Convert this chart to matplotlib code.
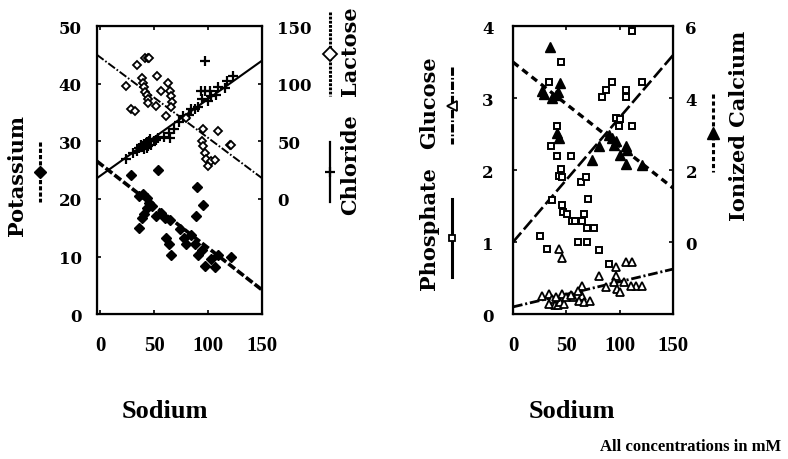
import numpy as np
import matplotlib.pyplot as plt
from matplotlib.lines import Line2D

# 字体: 粗体衬线
plt.rcParams['font.family'] = ['DejaVu Serif']
plt.rcParams['font.weight'] = 'bold'
plt.rcParams['lines.scale_dashes'] = False

# ---- 左图数据 (mM) ----
k_sodium = [29, 54, 36, 40, 43, 45, 48, 43, 41, 39, 36, 52, 56, 60, 65, 61, 64, 66,
            74, 78, 84, 80, 88, 91, 94, 97, 103, 106, 109, 121, 90, 95, 89]
k_values = [24.1, 25.0, 20.5, 20.9, 20.2, 19.3, 18.8, 18.4, 17.4, 16.7, 15.0, 17.1, 17.6,
            16.7, 16.4, 13.3, 12.2, 10.2, 14.7, 13.3, 13.8, 12.1, 12.1, 10.3, 11.2, 8.4,
            9.5, 8.1, 10.3, 10.0, 22.1, 19.0, 17.1]

cl_sodium = [24, 30, 34, 38, 41, 43, 45, 47, 50, 52, 54, 59, 64, 65, 68, 73, 77, 82, 84,
             88, 91, 94, 93, 97, 102, 100, 103, 107, 109, 116, 118, 123, 97,
             39, 41, 43, 44, 36, 46]
cl_values = [35, 40, 42, 47, 48, 44, 50, 47, 50, 51, 53, 54, 57, 53, 61, 67, 72, 73, 78,
             78, 80, 87, 94, 94, 94, 85, 89, 90, 97, 96, 102, 107, 120,
             45, 43, 49, 46, 44, 52]

lac_sodium = [24, 34, 42, 44, 45, 29, 32, 39, 40, 41, 42, 43, 44, 44, 53, 63, 56, 65, 66,
              67, 61, 66, 52, 80, 95, 109, 120, 94, 95, 97, 98, 100, 103, 106, 121]
lac_values = [98, 116, 122, 122, 122, 78, 76, 105, 101, 97, 93, 90, 87, 83, 107, 101, 94,
              94, 89, 84, 72, 80, 81, 70, 61, 59, 47, 50, 46, 40, 35, 29, 33, 34, 47]

# ---- 右图数据 (mM) ----
p_sodium = [112, 45, 34, 83, 87, 93, 106, 106, 121, 41, 36, 41, 54, 97, 100, 99, 112, 45,
            43, 46, 64, 68, 37, 70, 46, 47, 51, 55, 58, 67, 65, 69, 76, 61, 69, 25, 32,
            81, 90]
p_values = [3.93, 3.50, 3.22, 3.01, 3.11, 3.22, 3.11, 3.01, 3.22, 2.61, 2.33, 2.20, 2.20,
            2.72, 2.71, 2.61, 2.61, 2.01, 1.92, 1.91, 1.83, 1.90, 1.59, 1.60, 1.51, 1.42,
            1.39, 1.30, 1.30, 1.39, 1.30, 1.19, 1.19, 1.00, 1.00, 1.09, 0.91, 0.89, 0.70]

glu_sodium = [43, 46, 97, 106, 112, 81, 97, 115, 121, 111, 104, 87, 95, 98, 100, 65, 65,
              62, 67, 56, 72, 27, 34, 37, 39, 42, 46, 44, 48, 50, 54, 61, 40, 34]
glu_values = [0.91, 0.78, 0.66, 0.73, 0.73, 0.53, 0.53, 0.39, 0.39, 0.39, 0.45, 0.38, 0.45,
              0.35, 0.31, 0.39, 0.25, 0.18, 0.17, 0.24, 0.18, 0.25, 0.28, 0.21, 0.13, 0.13,
              0.28, 0.17, 0.14, 0.24, 0.27, 0.32, 0.24, 0.14]

ca_sodium = [35, 44, 27, 29, 37, 40, 42, 43, 41, 74, 81, 90, 93, 97, 95, 100, 106, 107,
             106, 121]
ca_values = [5.42, 4.42, 4.19, 4.11, 4.00, 4.08, 4.16, 2.88, 3.02, 2.27, 2.66, 2.97, 2.88,
             2.80, 2.69, 2.41, 2.66, 2.55, 2.18, 2.13]

# 回归线 (截距, 斜率)
k_fit = [26.1, -0.146]
cl_fit = [20.0, 0.667]
lac_fit = [123.0, -0.70]
p_fit = [1.0, 0.0173]
glu_fit = [0.1, 0.0035]
ca_fit = [5.0, -0.0233]

SERIF = 'DejaVu Serif'
TIMES = 'Liberation Serif'


def fit_line(ax, fit, **kw):
    xs = np.array(ax.get_xlim())
    ax.plot(xs, fit[0] + fit[1] * xs, color='black', **kw)


def style_axes(ax, ax2, ylab_pad, ylab_pad2):
    for sp in ax.spines.values():
        sp.set_linewidth(1.6)
    ax.set_xticks([0, 50, 100, 150])
    ax.tick_params(axis='x', direction='in', top=True, length=3, width=1.2,
                   labelsize=15, pad=15)
    ax.tick_params(axis='y', direction='in', right=False, length=3, width=1.2,
                   labelsize=12, pad=ylab_pad)
    ax2.tick_params(axis='y', direction='in', length=3, width=1.2,
                    labelsize=12, pad=ylab_pad2)
    for lbl in ax.get_xticklabels():
        lbl.set_fontfamily(TIMES)


def glyph(x, y0, y1, marker, mfc, **kw):
    ym = (y0 + y1) / 2
    fig.add_artist(Line2D([x, x, x], [y0, ym, y1], transform=fig.transFigure,
                          color='black', marker=marker, markevery=[1], mfc=mfc,
                          mec='black', **kw))


fig = plt.figure(figsize=(7.88, 4.6), dpi=100)

# ---------------- 左图 ----------------
ax1 = fig.add_axes([0.123, 0.315, 0.2095, 0.626])
ax1.set_xlim(-3, 150)
ax1.set_ylim(0, 50)
ax1.set_yticks([0, 10, 20, 30, 40, 50])
ax2 = ax1.twinx()
ax2.set_ylim(-100, 150)
ax2.set_yticks([0, 50, 100, 150])

fit_line(ax1, k_fit, lw=2.6, dashes=(6, 2))
fit_line(ax2, cl_fit, lw=1.5)
fit_line(ax2, lac_fit, lw=1.4, dashes=(6, 1.5, 1.2, 1.5))
ax1.plot(k_sodium, k_values, 'D', color='black', ms=5)
ax2.plot(cl_sodium, cl_values, '+', color='black', ms=6.5, mew=1.6)
ax2.plot(lac_sodium, lac_values, 'D', mfc='white', mec='black', ms=4.2, mew=1.3)
style_axes(ax1, ax2, 11, 11)

# ---------------- 右图 ----------------
ax3 = fig.add_axes([0.651, 0.315, 0.203, 0.626])
ax3.set_xlim(0, 150)
ax3.set_ylim(0, 4)
ax3.set_yticks([0, 1, 2, 3, 4])
ax4 = ax3.twinx()
ax4.set_ylim(-2, 6)
ax4.set_yticks([0, 2, 4, 6])

fit_line(ax3, p_fit, lw=1.9, dashes=(9, 3))
fit_line(ax3, glu_fit, lw=2.0, dashes=(7, 2, 1.5, 2))
fit_line(ax4, ca_fit, lw=2.4, dashes=(5, 3.5))
ax3.plot(p_sodium, p_values, 's', mfc='white', mec='black', ms=4.2, mew=1.4)
ax3.plot(glu_sodium, glu_values, '^', mfc='white', mec='black', ms=5.2, mew=1.3)
ax4.plot(ca_sodium, ca_values, '^', color='black', ms=6.5)
style_axes(ax3, ax4, 14, 9)

# ---------------- 坐标轴名称 (旋转) ----------------
def vlabel(x, y, s):
    fig.text(x, y, s, rotation=90, ha='center', va='center', fontsize=15,
             family=SERIF, weight='bold')

vlabel(17.5 / 788, 1 - 176 / 460, 'Potassium')
vlabel(350 / 788, 1 - 165 / 460, 'Chloride')
vlabel(350 / 788, 1 - 51 / 460, 'Lactose')
vlabel(429 / 788, 1 - 103 / 460, 'Glucose')
vlabel(429 / 788, 1 - 229 / 460, 'Phosphate')
vlabel(739 / 788, 1 - 126 / 460, 'Ionized Calcium')

# 图例符号
glyph(40 / 788, 1 - 143 / 460, 1 - 203 / 460, 'D', 'black', lw=2.2, dashes=(3, 1.5), ms=6)
glyph(330 / 788, 1 - 143 / 460, 1 - 203 / 460, '+', 'black', lw=1.6, ms=7, mew=1.6)
glyph(330 / 788, 1 - 13 / 460, 1 - 97 / 460, 'D', 'white', lw=2.2, dashes=(2, 1), ms=7, mew=1.3)
glyph(452 / 788, 1 - 68 / 460, 1 - 145 / 460, '<', 'white', lw=2.2, dashes=(6, 1.5, 1.2, 1.5), ms=7, mew=1.3)
glyph(452 / 788, 1 - 200 / 460, 1 - 278 / 460, 's', 'white', lw=2.2, ms=5, mew=1.3)
glyph(713 / 788, 1 - 95 / 460, 1 - 173 / 460, '^', 'black', lw=2.2, dashes=(3, 2), ms=8)

fig.text(165 / 788, 1 - 412 / 460, 'Sodium', ha='center', va='center', fontsize=19,
         family=TIMES, weight='bold')
fig.text(572 / 788, 1 - 412 / 460, 'Sodium', ha='center', va='center', fontsize=19,
         family=TIMES, weight='bold')
fig.text(691 / 788, 1 - 447 / 460, 'All concentrations in mM', ha='center', va='center',
         fontsize=12, family=TIMES, weight='bold')

fig.savefig('out.png', dpi=100)
